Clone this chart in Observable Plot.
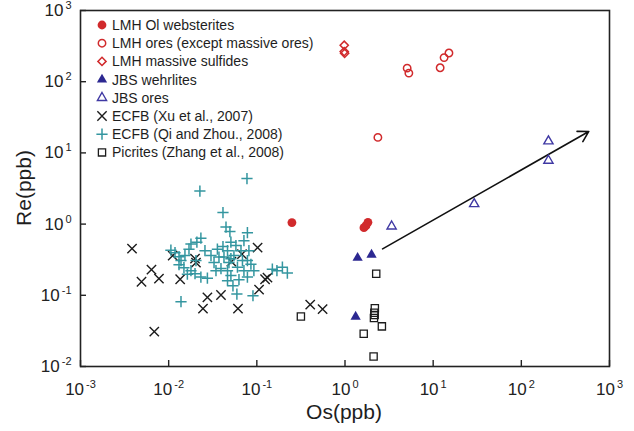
<!DOCTYPE html>
<html><head><meta charset="utf-8">
<script src="https://cdn.jsdelivr.net/npm/d3@7"></script>
<script src="https://cdn.jsdelivr.net/npm/@observablehq/plot@0.6"></script>
<style>
html,body{margin:0;padding:0;background:#fff;}
#wrap{position:relative;width:634px;height:431px;font-family:"Liberation Sans",Arial,sans-serif;color:#1e1e1e;}
#wrap svg{display:block;}
.ttl{position:absolute;font-size:21px;white-space:nowrap;line-height:1;}
</style></head><body><div id="wrap"></div>
<script>
// ---- data (Os ppb, Re ppb) ----
const lmhWebOs = [0.25, 1.64, 1.73, 1.82];
const lmhWebRe = [1.05, 0.89, 0.95, 1.06];
const lmhOreOs = [5.07, 5.3, 12.0, 13.3, 15.1, 2.36];
const lmhOreRe = [155, 132, 157, 218, 253, 16.5];
const lmhSulfOs = [0.98, 0.98, 0.99];
const lmhSulfRe = [325, 265, 250];
const jbsWehOs = [1.39, 2.0, 1.32];
const jbsWehRe = [0.335, 0.372, 0.050];
const jbsOreOs = [3.38, 29.2, 203, 203];
const jbsOreRe = [0.93, 1.92, 14.6, 7.8];
const xuOs = [0.00384,0.00492,0.00638,0.00776,0.00687,0.0111,0.0135,0.0199,0.0204,0.0245,0.0275,0.0392,0.0611,0.0515,0.0678,0.102,0.106,0.124,0.132,0.403,0.557];
const xuRe = [0.452,0.155,0.229,0.171,0.0308,0.361,0.168,0.327,0.288,0.0649,0.0933,0.101,0.0649,0.297,0.378,0.467,0.120,0.168,0.177,0.0738,0.0641];
const qiOs = [0.0773,0.0226,0.0413,0.0447,0.0495,0.0782,0.0232,0.0209,0.0179,0.0170,0.0106,0.0118,0.0131,0.0138,0.0131,0.0149,0.0163,0.0179,0.0199,0.0232,0.0275,0.0357,0.0413,0.0508,0.0579,0.0714,0.0465,0.0372,0.0424,0.0327,0.0392,0.0465,0.0508,0.0603,0.0687,0.0714,0.0782,0.0857,0.0926,0.0782,0.0465,0.0536,0.150,0.195,0.222,0.169,0.0138,0.0594,0.0904,0.0661,0.0550,0.0302,0.0483,0.0627,0.0153,0.0204,0.0344,0.0508,0.0813,0.0258];
const qiRe = [4.36,2.91,1.45,0.908,0.785,0.759,0.635,0.558,0.524,0.445,0.431,0.397,0.349,0.307,0.269,0.244,0.198,0.222,0.201,0.180,0.174,0.445,0.483,0.558,0.499,0.586,0.424,0.344,0.344,0.288,0.237,0.222,0.189,0.248,0.307,0.222,0.307,0.273,0.222,0.180,0.160,0.136,0.233,0.248,0.205,0.222,0.0813,0.104,0.0986,0.424,0.361,0.361,0.288,0.166,0.361,0.307,0.222,0.327,0.424,0.424];
const picOs = [0.316, 2.26, 2.18, 2.15, 2.17, 2.13, 2.62, 1.63, 2.11];
const picRe = [0.0505, 0.201, 0.066, 0.057, 0.053, 0.048, 0.0366, 0.0289, 0.0138];
const arrowOs = [2.67, 582];
const arrowRe = [0.448, 20];
const xTicks = [1e-3, 1e-2, 1e-1, 1e0, 1e1, 1e2, 1e3];
const yTicks = [1e-2, 1e-1, 1e0, 1e1, 1e2, 1e3];
const legendLabels = ["LMH Ol websterites", "LMH ores (except massive ores)", "LMH massive sulfides", "JBS wehrlites", "JBS ores", "ECFB (Xu et al., 2007)", "ECFB (Qi and Zhou., 2008)", "Picrites (Zhang et al., 2008)"];
const xTitle = "Os(ppb)";
const yTitle = "Re(ppb)";

// ---- styles ----
const RED = "#d12a2c", BLUE = "#2c2891", BLUE2 = "#3f38a3", TEAL = "#3496a0", BLK = "#1c1c1c";
const series = [
  {os: lmhWebOs, re: lmhWebRe, symbol: "circle", r: 4.4, fill: RED, stroke: "none", sw: 0},
  {os: lmhOreOs, re: lmhOreRe, symbol: "circle", r: 3.7, fill: "none", stroke: RED, sw: 1.5},
  {os: lmhSulfOs, re: lmhSulfRe, symbol: "diamond2", r: 3.7, fill: "none", stroke: RED, sw: 1.5},
  {os: jbsWehOs, re: jbsWehRe, symbol: "triangle", r: 3.8, fill: BLUE, stroke: "none", sw: 0},
  {os: jbsOreOs, re: jbsOreRe, symbol: "triangle2", r: 4.4, fill: "none", stroke: BLUE2, sw: 1.4},
  {os: xuOs, re: xuRe, symbol: "times", r: 4.3, fill: "none", stroke: BLK, sw: 1.4},
  {os: qiOs, re: qiRe, symbol: "plus", r: 3.7, fill: "none", stroke: TEAL, sw: 1.5},
  {os: picOs, re: picRe, symbol: "square2", r: 4.6, fill: "none", stroke: BLK, sw: 1.3}
];
const pts = (os, re) => os.map((x, i) => ({os: x, re: re[i]}));
const fmt = d => "10^" + Math.round(Math.log10(d));

const W = 634, H = 431, ML = 80, MR = 25, MT = 10, MB = 65;
const TICK = 6;
const marks = [
  Plot.tickX(xTicks, {x: d => d, insetTop: (H - MT - MB) - TICK, stroke: "#222", strokeWidth: 1.4}),
  Plot.tickY(yTicks, {y: d => d, insetRight: (W - ML - MR) - TICK, stroke: "#222", strokeWidth: 1.4}),
  Plot.frame({stroke: "#222", strokeWidth: 1.6}),
  Plot.axisX({ticks: xTicks, tickFormat: fmt, tickSize: 0, tickPadding: 16, fontSize: 17, label: null, color: "#222"}),
  Plot.axisY({ticks: yTicks, tickFormat: fmt, tickSize: 0, tickPadding: 9, fontSize: 17, label: null, color: "#222"}),
  Plot.arrow([{x1: arrowOs[0], y1: arrowRe[0], x2: arrowOs[1], y2: arrowRe[1]}], {x1: "x1", y1: "y1", x2: "x2", y2: "y2", stroke: "#111", strokeWidth: 1.6, headLength: 11})
];
series.forEach(s => {
  marks.push(Plot.dot(pts(s.os, s.re), {x: "os", y: "re", symbol: () => s.symbol, r: s.r, fill: s.fill, stroke: s.stroke, strokeWidth: s.sw}));
});

const chart = Plot.plot({
  width: W, height: H,
  marginLeft: ML, marginRight: MR, marginTop: MT, marginBottom: MB,
  style: {fontFamily: "'Liberation Sans', Arial, sans-serif", background: "#fff", color: "#222"},
  x: {type: "log", domain: [1e-3, 1e3]},
  y: {type: "log", domain: [1e-2, 1e3]},
  symbol: {type: "identity"},
  marks
});

// superscript exponents on tick labels
d3.select(chart).selectAll('g[aria-label="x-axis tick label"] text, g[aria-label="y-axis tick label"] text').each(function() {
  const t = this.textContent;
  if (!t.includes("^")) return;
  const e = t.split("^")[1];
  const sel = d3.select(this);
  sel.text("");
  sel.append("tspan").text("10");
  sel.append("tspan").attr("font-size", "11px").attr("dx", "2").attr("dy", "-7").text(e);
});

const wrap = document.getElementById("wrap");
wrap.appendChild(chart);

// legend overlay
const lg = d3.select(wrap).append("svg")
  .attr("width", W).attr("height", H)
  .style("position", "absolute").style("left", "0px").style("top", "0px").style("pointer-events", "none");
const symMap = {circle: d3.symbolCircle, diamond2: d3.symbolDiamond2, triangle: d3.symbolTriangle, triangle2: d3.symbolTriangle2, times: d3.symbolTimes, plus: d3.symbolPlus, square2: d3.symbolSquare2};
legendLabels.forEach((lab, i) => {
  const s = series[i];
  const yy = 25 + i * 18.2;
  lg.append("path")
    .attr("d", d3.symbol(symMap[s.symbol], Math.PI * s.r * s.r)())
    .attr("transform", `translate(102,${yy})`)
    .attr("fill", s.fill).attr("stroke", s.stroke).attr("stroke-width", s.sw);
  lg.append("text").attr("x", 112).attr("y", yy).attr("dy", "0.35em")
    .attr("font-family", "'Liberation Sans', Arial, sans-serif").attr("font-size", 14).attr("fill", "#1e1e1e")
    .text(lab);
});

// axis titles
const xt = document.createElement("div");
xt.className = "ttl"; xt.textContent = xTitle;
xt.style.left = "0px"; xt.style.width = "688px"; xt.style.textAlign = "center"; xt.style.top = "401px";
wrap.appendChild(xt);
const yt = document.createElement("div");
yt.className = "ttl"; yt.textContent = yTitle;
yt.style.left = "23px"; yt.style.top = "188px"; yt.style.transform = "translate(-50%,-50%) rotate(-90deg)";
wrap.appendChild(yt);
</script>
</body></html>
